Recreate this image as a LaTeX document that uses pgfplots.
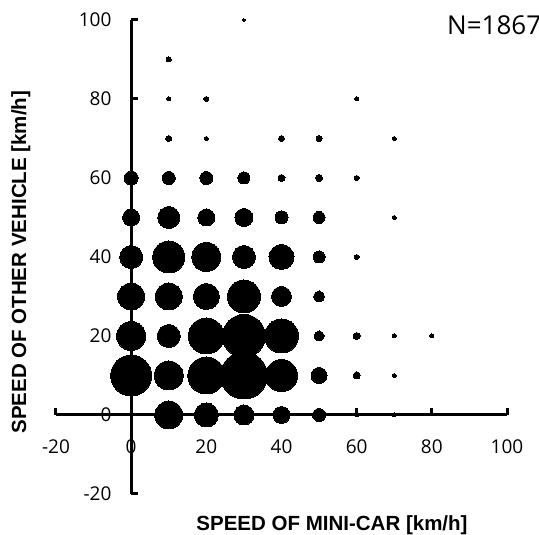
\documentclass[border=0pt]{standalone}
\usepackage{fontspec}
\setmainfont{Open Sans}
\newfontfamily\labfont{Liberation Sans}
\usepackage{pgfplots}
\pgfplotsset{compat=1.18}
\usepackage{pgfplotstable}

% x = speed of mini-car, y = speed of other vehicle, d = bubble diameter (pt)
\pgfplotstableread{
x y d
10 0 28
20 0 24
30 0 20
40 0 17
50 0 13
60 0 4
70 0 4
0 10 41
10 10 29
20 10 37
30 10 47
40 10 32
50 10 16
60 10 7
70 10 4
0 20 29
10 20 23
20 20 36
30 20 43
40 20 34
50 20 10
60 20 7
70 20 4
80 20 4
0 30 27
10 30 27
20 30 26
30 30 33
40 30 20
50 30 11
0 40 23
10 40 32
20 40 29
30 40 23
40 40 25
50 40 12
60 40 5
0 50 17
10 50 22
20 50 17
30 50 18
40 50 13
50 50 12
70 50 4
0 60 14
10 60 13
20 60 13
30 60 12
40 60 7
50 60 7
60 60 5
10 70 6
20 70 4
40 70 6
50 70 6
70 70 4
10 80 4
20 80 5
60 80 4
10 90 5
30 100 3
}\bubbles

\begin{document}
\begin{tikzpicture}
\begin{axis}[
    width=451pt, height=474pt,
    scale only axis,
    axis lines=middle,
    axis line style={line width=3pt, -},
    xmin=-20, xmax=100, ymin=-20, ymax=100,
    xtick={-20,0,20,40,60,80,100},
    xticklabels={-20,0,20,40,60,80,100},
    ytick={-20,0,20,40,60,80,100},
    yticklabels={-20,0,20,40,60,80,100},
    hide obscured x ticks=false,
    hide obscured y ticks=false,
    major tick length=6.5pt,
    tick style={line width=3pt, black},
    xtick style={yshift=3.25pt},
    ytick style={xshift=3.25pt},
    ticklabel style={font=\fontsize{19}{19}\selectfont},
    xticklabel style={anchor=north, yshift=-18pt},
    yticklabel style={anchor=east, xshift=-13pt},
    xlabel={SPEED OF MINI-CAR [km/h]},
    ylabel={SPEED OF OTHER VEHICLE [km/h]},
    label style={font=\labfont\bfseries\fontsize{20.5}{20.5}\selectfont},
    xlabel style={at={(axis description cs:0.612,-0.065)}, anchor=center},
    ylabel style={at={(axis description cs:-0.078,0.489)}, anchor=center, rotate=90},
    clip=true,
]
\addplot[scatter, only marks, mark=*,
    scatter/use mapped color={draw=black, fill=black},
    mark options={line width=0pt},
    visualization depends on={\thisrow{d}/2 \as \rad},
    scatter/@pre marker code/.append style={/tikz/mark size=\rad pt}]
    table[x=x, y=y] {\bubbles};
\end{axis}
\node[anchor=base west, font=\fontsize{26}{26}\selectfont, inner sep=0pt]
    at (391pt,459pt) {N=1867};
\pgfresetboundingbox
\useasboundingbox (-56pt,-41pt) rectangle (483pt,494pt);
\end{tikzpicture}
\end{document}
